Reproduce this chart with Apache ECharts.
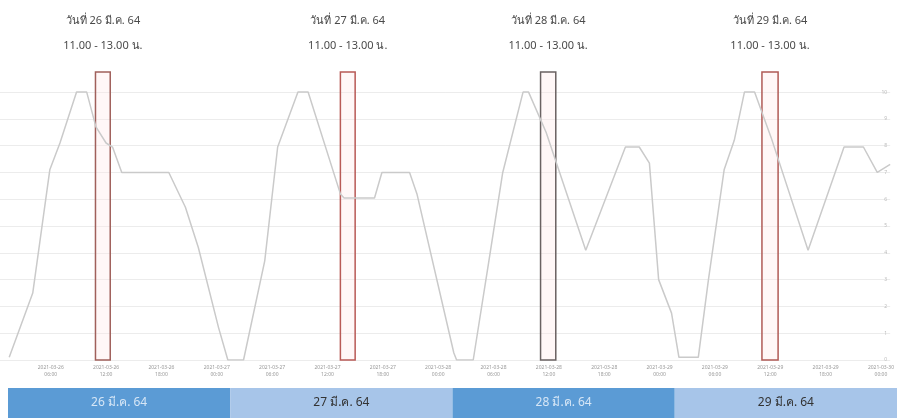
<!DOCTYPE html>
<html>
<head>
<meta charset="utf-8">
<script src="https://cdn.jsdelivr.net/npm/echarts@6/dist/echarts.min.js"></script>
<style>html,body{margin:0;padding:0;background:#fff}#c{width:897px;height:418px}</style>
</head>
<body>
<div id="c"></div>
<script>
// hours since 2021-03-26 00:00
var hours = [1.5, 4.05, 5.9, 7.0, 8.8, 9.9, 10.9, 12.0, 12.7, 13.7, 18.8, 20.6, 22.0, 24.2, 25.2, 26.9, 29.2, 30.6, 32.8, 33.9, 37.4, 37.8, 41.1, 41.9, 44.9, 45.7, 49.7, 50.0, 51.8, 53.5, 55.0, 57.2, 57.8, 59.7, 64.0, 68.3, 69.8, 70.9, 71.9, 73.3, 74.1, 76.2, 77.3, 79.0, 80.1, 81.2, 82.3, 84.1, 88.1, 92.0, 94.1, 95.6, 97.0];
var levels = [0.1, 2.5, 7.1, 8.1, 10.0, 10.0, 8.7, 8.1, 7.95, 7.0, 7.0, 5.7, 4.2, 1.2, 0.0, 0.0, 3.7, 7.95, 10.0, 10.0, 6.2, 6.05, 6.05, 7.0, 7.0, 6.2, 0.26, 0.0, 0.0, 3.7, 7.0, 10.0, 10.0, 8.5, 4.1, 7.95, 7.95, 7.35, 3.0, 1.75, 0.1, 0.1, 3.0, 7.1, 8.2, 10.0, 10.0, 8.3, 4.1, 7.95, 7.95, 7.0, 7.3];
var dayLabels = ['26 มี.ค. 64', '27 มี.ค. 64', '28 มี.ค. 64', '29 มี.ค. 64'];
var boxTitles = ['วันที่ 26 มี.ค. 64', 'วันที่ 27 มี.ค. 64', 'วันที่ 28 มี.ค. 64', 'วันที่ 29 มี.ค. 64'];
var boxSubtitle = '11.00 - 13.00 น.';
var boxStart = [10.85, 37.4, 59.1, 83.1];
var boxEnd = [12.45, 39.0, 60.75, 84.85];
var xTickHours = [6, 12, 18, 24, 30, 36, 42, 48, 54, 60, 66, 72, 78, 84, 90, 96];
var bandValues = [1, 1, 1, 1];

var FONT = "'Noto Sans', 'DejaVu Sans', sans-serif";
var lineData = hours.map(function (h, i) { return [h, levels[i]]; });
var boxColors = ['#a0605b', '#b85a56', '#6a6262', '#b05a56'];
var areas = boxStart.map(function (s, i) {
  return [{
    xAxis: s,
    itemStyle: { color: 'rgba(255,232,232,0.35)', borderColor: boxColors[i], borderWidth: 1.5 },
    label: { formatter: boxTitles[i] + '\n' + boxSubtitle }
  }, { xAxis: boxEnd[i] }];
});
function pad(n) { return (n < 10 ? '0' : '') + n; }
var bandColors = ['#5b9bd5', '#a7c5e9', '#5b9bd5', '#a7c5e9'];
var bandText = ['#d6e6f6', '#333333', '#d6e6f6', '#333333'];

var chart = echarts.init(document.getElementById('c'), null, { renderer: 'canvas' });
chart.setOption({
  animation: false,
  textStyle: { fontFamily: FONT },
  grid: [
    { left: 0, right: 0, top: 72, bottom: 58 },
    { left: 8, right: 0, top: 388, bottom: 0 }
  ],
  xAxis: [{
    type: 'value', gridIndex: 0, min: 0.5, max: 97,
    axisLine: { show: false }, axisTick: { show: false }, splitLine: { show: false },
    axisLabel: {
      customValues: xTickHours, fontSize: 5, color: '#999', lineHeight: 7, margin: 4,
      formatter: function (v) {
        var d = 26 + Math.floor(v / 24), hh = v % 24;
        return '2021-03-' + d + '\n' + pad(hh) + ':00';
      }
    }
  }, {
    type: 'category', gridIndex: 1, data: dayLabels,
    axisLine: { show: false }, axisTick: { show: false }, axisLabel: { show: false }
  }],
  yAxis: [{
    type: 'value', gridIndex: 0, position: 'right', min: 0, max: 10.75, interval: 1,
    axisLine: { show: false }, axisTick: { show: false },
    splitLine: { show: true, showMaxLine: false, lineStyle: { color: '#ececec', width: 1 } },
    axisLabel: { inside: true, fontSize: 5, color: '#bbb', margin: 3, showMaxLabel: false }
  }, {
    type: 'value', gridIndex: 1, min: 0, max: 1, show: false
  }],
  series: [{
    type: 'line', xAxisIndex: 0, yAxisIndex: 0, data: lineData, showSymbol: false,
    lineStyle: { color: '#cacaca', width: 1.5 },
    markArea: {
      silent: true,
      label: { show: true, position: 'top', distance: 13, color: '#4a4a4a', fontSize: 11, lineHeight: 25, fontFamily: FONT },
      data: areas
    }
  }, {
    type: 'bar', xAxisIndex: 1, yAxisIndex: 1, barCategoryGap: 0,
    data: bandValues.map(function (v, i) {
      return { value: v, itemStyle: { color: bandColors[i] }, label: { color: bandText[i] } };
    }),
    label: {
      show: true, position: 'inside', fontSize: 12, fontFamily: FONT,
      formatter: function (p) { return dayLabels[p.dataIndex]; }
    }
  }]
});
</script>
</body>
</html>
